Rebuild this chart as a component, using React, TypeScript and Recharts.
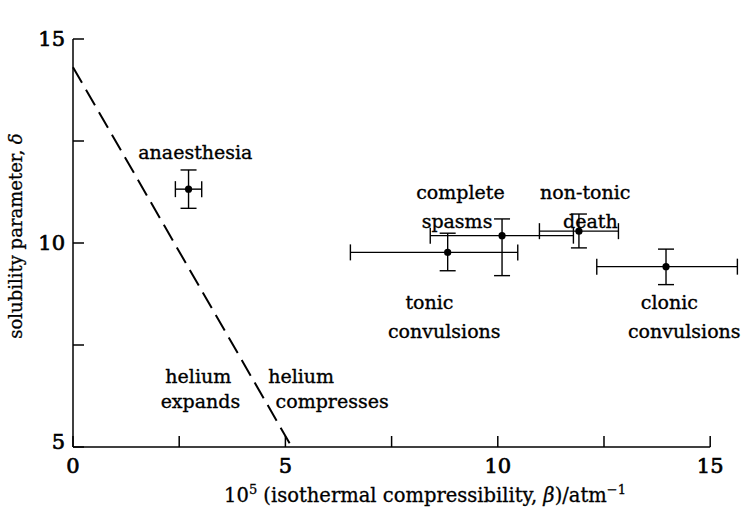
import React from 'react';
import { ScatterChart, Scatter, XAxis, YAxis, ErrorBar, ReferenceLine, Label } from 'recharts';

// measured effects
const effectNames = ['anaesthesia', 'tonic convulsions', 'complete spasms', 'non-tonic death', 'clonic convulsions'];
const compressibility = [2.72, 8.82, 10.1, 11.91, 13.96];
const compressibilityErr: number[][] = [[0.31, 0.31], [2.29, 1.65], [1.69, 1.68], [0.93, 0.93], [1.63, 1.68]];
const solubility = [11.32, 9.77, 10.18, 10.29, 9.42];
const solubilityErr: number[][] = [[0.47, 0.47], [0.45, 0.47], [0.98, 0.41], [0.41, 0.42], [0.44, 0.43]];

// dashed boundary line (helium expands / compresses)
const boundaryX = [0, 5.15];
const boundaryY = [14.31, 5];

// annotation texts and their anchor positions (data units)
const noteText = ['anaesthesia', 'complete', 'spasms', 'non-tonic', 'death', 'tonic', 'convulsions', 'clonic', 'convulsions', 'helium', 'expands', 'helium', 'compresses'];
const noteX = [2.88, 9.12, 9.04, 12.06, 12.18, 8.39, 8.74, 14.04, 14.39, 2.95, 3.0, 5.37, 6.1];
const noteY = [12.23, 11.23, 10.52, 11.23, 10.52, 8.55, 7.84, 8.55, 7.84, 6.74, 6.13, 6.74, 6.13];

// axes
const xTicks = [0, 2.5, 5, 7.5, 10, 12.5, 15];
const xTickLabels = ['0', '', '5', '', '10', '', '15'];
const yTicks = [5, 7.5, 10, 12.5, 15];
const yTickLabels = ['5', '', '10', '', '15'];
const xDomain = [0, 15.89];
const yDomain = [5, 15];

const points = effectNames.map((name, i) => ({
  name,
  x: compressibility[i],
  y: solubility[i],
  ex: compressibilityErr[i],
  ey: solubilityErr[i],
}));

const notes = noteText.map((t, i) => ({ t, x: noteX[i], y: noteY[i] }));

const FONT = '"DejaVu Serif", serif';

const Dot = (p: any) => <circle cx={p.cx} cy={p.cy} r={3.6} fill="#000" />;

const NoteShape = (p: any) => (
  <text x={p.cx} y={p.cy} dy="0.35em" textAnchor="middle" fontFamily={FONT} fontSize={19} fill="#000" stroke="#000" strokeWidth={0.35}>
    {p.payload.t}
  </text>
);

const XTick = (p: any) => {
  const idx = xTicks.indexOf(p.payload.value);
  const lab = idx >= 0 ? xTickLabels[idx] : '';
  return (
    <g>
      <line x1={p.x} x2={p.x} y1={p.y} y2={p.y - 11} stroke="#000" strokeWidth={1.5} />
      {lab && (
        <text x={p.x} y={p.y + 26} textAnchor="middle" fontFamily={FONT} fontSize={21} fill="#000" stroke="#000" strokeWidth={0.7}>
          {lab}
        </text>
      )}
    </g>
  );
};

const YTick = (p: any) => {
  const idx = yTicks.indexOf(p.payload.value);
  const lab = idx >= 0 ? yTickLabels[idx] : '';
  const shift = p.payload.value === 5 ? -5 : 0;
  return (
    <g>
      <line x1={p.x} x2={p.x + 11} y1={p.y} y2={p.y} stroke="#000" strokeWidth={1.5} />
      {lab && (
        <text x={p.x - 8} y={p.y + shift} dy="0.35em" textAnchor="end" fontFamily={FONT} fontSize={21} fill="#000" stroke="#000" strokeWidth={0.7}>
          {lab}
        </text>
      )}
    </g>
  );
};

const XTitle = (p: any) => {
  const vb = p.viewBox || { x: 73, y: 447, width: 675 };
  return (
    <text x={vb.x + 352} y={vb.y + 55} textAnchor="middle" fontFamily={FONT} fontSize={19.5} fill="#000" stroke="#000" strokeWidth={0.3}>
      10<tspan dy={-8} fontSize={13}>5</tspan>
      <tspan dy={8}> (isothermal compressibility, </tspan>
      <tspan fontStyle="italic">β</tspan>
      <tspan>)/atm</tspan>
      <tspan dy={-8} fontSize={13}>−1</tspan>
    </text>
  );
};

const YTitle = () => {
  const cx = 22;
  const cy = 236;
  return (
    <text x={cx} y={cy} textAnchor="middle" transform={`rotate(-90 ${cx} ${cy})`} fontFamily={FONT} fontSize={18} fill="#000" stroke="#000" strokeWidth={0.3}>
      solubility parameter, <tspan fontStyle="italic">δ</tspan>
    </text>
  );
};

export default function App() {
  return (
    <div style={{ position: 'absolute', left: 0, top: 0, background: '#fff' }}>
      <ScatterChart width={748} height={509} margin={{ top: 39, right: 0, bottom: 0, left: 0 }}>
        <XAxis
          type="number"
          dataKey="x"
          domain={xDomain}
          allowDataOverflow
          ticks={xTicks}
          interval={0}
          axisLine={false}
          tickLine={false}
          tickSize={0}
          tickMargin={0}
          height={62}
          tick={<XTick />}
        >
          <Label content={<XTitle />} />
        </XAxis>
        <YAxis
          type="number"
          dataKey="y"
          domain={yDomain}
          allowDataOverflow
          ticks={yTicks}
          interval={0}
          width={73}
          axisLine={{ stroke: '#000', strokeWidth: 1.5 }}
          tickLine={false}
          tickSize={0}
          tickMargin={0}
          tick={<YTick />}
        >
          <Label content={<YTitle />} />
        </YAxis>
        <ReferenceLine
          segment={[{ x: 0, y: 5 }, { x: 15, y: 5 }]}
          stroke="#000"
          strokeWidth={1.5}
        />
        <ReferenceLine
          segment={[{ x: boundaryX[0], y: boundaryY[0] }, { x: boundaryX[1], y: boundaryY[1] }]}
          stroke="#000"
          strokeWidth={2}
          strokeDasharray="18 8"
        />
        <Scatter data={points} shape={<Dot />} isAnimationActive={false}>
          <ErrorBar dataKey="ex" direction="x" width={8} stroke="#000" strokeWidth={1.4} />
          <ErrorBar dataKey="ey" direction="y" width={8} stroke="#000" strokeWidth={1.4} />
        </Scatter>
        <Scatter data={notes} shape={<NoteShape />} isAnimationActive={false} />
      </ScatterChart>
    </div>
  );
}
